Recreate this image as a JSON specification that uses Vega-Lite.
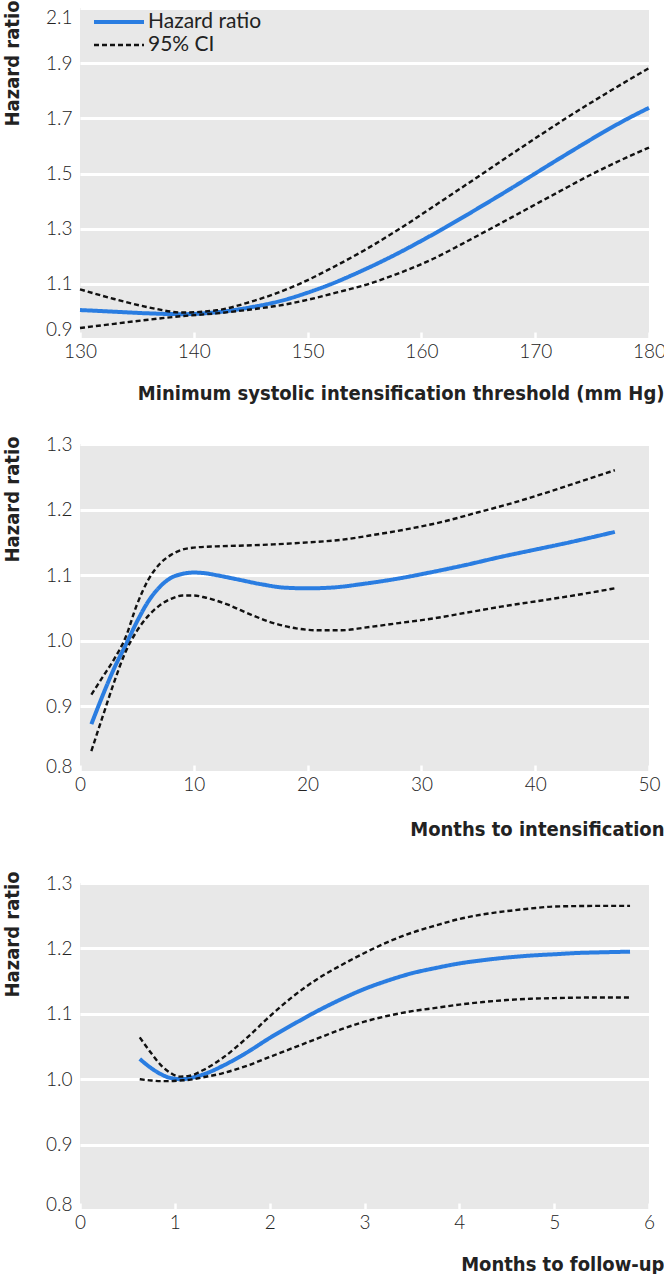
{
  "$schema": "https://vega.github.io/schema/vega-lite/v6.json",
  "padding": {"left": 2, "top": 0, "right": 0, "bottom": 0},
  "spacing": 32,
  "background": "white",
  "resolve": {"legend": {"color": "independent", "strokeDash": "independent", "strokeWidth": "independent"}},
  "config": {
    "view": {"fill": "#e8e8e8", "stroke": null},
    "font": "Lato",
    "axis": {
      "labelFont": "Lato", "labelFontSize": 19, "labelColor": "#222", "labelFontWeight": 300,
      "titleFont": "'Liberation Sans Narrow', 'DejaVu Sans Condensed', sans-serif",
      "titleFontSize": 20, "titleFontWeight": "bold", "titleColor": "#222", "domain": false
    },
    "axisX": {
      "grid": false, "ticks": true, "tickColor": "white", "tickSize": -7, "tickWidth": 2.5,
      "labelPadding": 10, "labelFlush": false, "labelOverlap": false,
      "titleAnchor": "end", "titleAlign": "right", "titleBaseline": "middle", "titleX": 584, "titleY": 54
    },
    "axisY": {
      "grid": true, "gridColor": "white", "gridWidth": 3, "ticks": false, "labelPadding": 8,
      "format": ".1f", "labelOverlap": false,
      "titleAngle": 270, "titleAnchor": "end", "titleAlign": "right", "titleBaseline": "middle",
      "titleX": -68, "titleY": -8
    },
    "legend": {"padding": 0}
  },
  "datasets": {
    "p1": [
      {"type": "Hazard ratio", "s": "hr", "x": 130, "v": 1.005},
      {"type": "Hazard ratio", "s": "hr", "x": 133, "v": 0.999},
      {"type": "Hazard ratio", "s": "hr", "x": 136, "v": 0.993},
      {"type": "Hazard ratio", "s": "hr", "x": 139, "v": 0.99},
      {"type": "Hazard ratio", "s": "hr", "x": 142, "v": 0.997},
      {"type": "Hazard ratio", "s": "hr", "x": 145, "v": 1.015},
      {"type": "Hazard ratio", "s": "hr", "x": 148, "v": 1.042},
      {"type": "Hazard ratio", "s": "hr", "x": 150, "v": 1.068},
      {"type": "Hazard ratio", "s": "hr", "x": 152, "v": 1.098},
      {"type": "Hazard ratio", "s": "hr", "x": 154, "v": 1.133},
      {"type": "Hazard ratio", "s": "hr", "x": 156, "v": 1.171},
      {"type": "Hazard ratio", "s": "hr", "x": 158, "v": 1.212},
      {"type": "Hazard ratio", "s": "hr", "x": 160, "v": 1.256},
      {"type": "Hazard ratio", "s": "hr", "x": 162, "v": 1.302},
      {"type": "Hazard ratio", "s": "hr", "x": 164, "v": 1.35},
      {"type": "Hazard ratio", "s": "hr", "x": 166, "v": 1.399},
      {"type": "Hazard ratio", "s": "hr", "x": 168, "v": 1.449},
      {"type": "Hazard ratio", "s": "hr", "x": 170, "v": 1.5},
      {"type": "Hazard ratio", "s": "hr", "x": 172, "v": 1.551},
      {"type": "Hazard ratio", "s": "hr", "x": 174, "v": 1.601},
      {"type": "Hazard ratio", "s": "hr", "x": 176, "v": 1.65},
      {"type": "Hazard ratio", "s": "hr", "x": 178, "v": 1.696},
      {"type": "Hazard ratio", "s": "hr", "x": 180, "v": 1.738},
      {"type": "95% CI", "s": "up", "x": 130, "v": 1.08},
      {"type": "95% CI", "s": "up", "x": 133, "v": 1.045},
      {"type": "95% CI", "s": "up", "x": 136, "v": 1.015},
      {"type": "95% CI", "s": "up", "x": 139, "v": 0.996},
      {"type": "95% CI", "s": "up", "x": 142, "v": 1.004},
      {"type": "95% CI", "s": "up", "x": 145, "v": 1.035},
      {"type": "95% CI", "s": "up", "x": 147, "v": 1.062},
      {"type": "95% CI", "s": "up", "x": 149.3, "v": 1.1},
      {"type": "95% CI", "s": "up", "x": 152, "v": 1.155},
      {"type": "95% CI", "s": "up", "x": 155, "v": 1.222},
      {"type": "95% CI", "s": "up", "x": 158.1, "v": 1.3},
      {"type": "95% CI", "s": "up", "x": 161.7, "v": 1.398},
      {"type": "95% CI", "s": "up", "x": 165.4, "v": 1.5},
      {"type": "95% CI", "s": "up", "x": 169, "v": 1.6},
      {"type": "95% CI", "s": "up", "x": 172.7, "v": 1.7},
      {"type": "95% CI", "s": "up", "x": 176.3, "v": 1.792},
      {"type": "95% CI", "s": "up", "x": 180, "v": 1.882},
      {"type": "95% CI", "s": "lo", "x": 130, "v": 0.94},
      {"type": "95% CI", "s": "lo", "x": 133, "v": 0.955},
      {"type": "95% CI", "s": "lo", "x": 136, "v": 0.97},
      {"type": "95% CI", "s": "lo", "x": 139, "v": 0.983},
      {"type": "95% CI", "s": "lo", "x": 142, "v": 0.993},
      {"type": "95% CI", "s": "lo", "x": 145, "v": 1.007},
      {"type": "95% CI", "s": "lo", "x": 148, "v": 1.025},
      {"type": "95% CI", "s": "lo", "x": 150, "v": 1.042},
      {"type": "95% CI", "s": "lo", "x": 152.5, "v": 1.068},
      {"type": "95% CI", "s": "lo", "x": 155.4, "v": 1.1},
      {"type": "95% CI", "s": "lo", "x": 158, "v": 1.138},
      {"type": "95% CI", "s": "lo", "x": 161, "v": 1.19},
      {"type": "95% CI", "s": "lo", "x": 163.5, "v": 1.243},
      {"type": "95% CI", "s": "lo", "x": 166, "v": 1.298},
      {"type": "95% CI", "s": "lo", "x": 169, "v": 1.365},
      {"type": "95% CI", "s": "lo", "x": 172, "v": 1.432},
      {"type": "95% CI", "s": "lo", "x": 175.1, "v": 1.5},
      {"type": "95% CI", "s": "lo", "x": 177.5, "v": 1.548},
      {"type": "95% CI", "s": "lo", "x": 180, "v": 1.594}
    ],
    "p2": [
      {"type": "Hazard ratio", "s": "hr", "x": 1, "v": 0.873},
      {"type": "Hazard ratio", "s": "hr", "x": 2, "v": 0.917},
      {"type": "Hazard ratio", "s": "hr", "x": 3, "v": 0.958},
      {"type": "Hazard ratio", "s": "hr", "x": 4, "v": 0.993},
      {"type": "Hazard ratio", "s": "hr", "x": 5, "v": 1.029},
      {"type": "Hazard ratio", "s": "hr", "x": 6, "v": 1.06},
      {"type": "Hazard ratio", "s": "hr", "x": 7, "v": 1.082},
      {"type": "Hazard ratio", "s": "hr", "x": 8, "v": 1.096},
      {"type": "Hazard ratio", "s": "hr", "x": 9, "v": 1.102},
      {"type": "Hazard ratio", "s": "hr", "x": 10, "v": 1.104},
      {"type": "Hazard ratio", "s": "hr", "x": 11, "v": 1.103},
      {"type": "Hazard ratio", "s": "hr", "x": 12, "v": 1.1},
      {"type": "Hazard ratio", "s": "hr", "x": 14, "v": 1.093},
      {"type": "Hazard ratio", "s": "hr", "x": 16, "v": 1.086},
      {"type": "Hazard ratio", "s": "hr", "x": 18, "v": 1.081},
      {"type": "Hazard ratio", "s": "hr", "x": 20, "v": 1.08},
      {"type": "Hazard ratio", "s": "hr", "x": 22, "v": 1.081},
      {"type": "Hazard ratio", "s": "hr", "x": 25, "v": 1.087},
      {"type": "Hazard ratio", "s": "hr", "x": 28, "v": 1.095},
      {"type": "Hazard ratio", "s": "hr", "x": 31, "v": 1.105},
      {"type": "Hazard ratio", "s": "hr", "x": 34, "v": 1.116},
      {"type": "Hazard ratio", "s": "hr", "x": 37, "v": 1.128},
      {"type": "Hazard ratio", "s": "hr", "x": 40, "v": 1.139},
      {"type": "Hazard ratio", "s": "hr", "x": 43, "v": 1.15},
      {"type": "Hazard ratio", "s": "hr", "x": 47, "v": 1.166},
      {"type": "95% CI", "s": "up", "x": 1, "v": 0.918},
      {"type": "95% CI", "s": "up", "x": 2, "v": 0.945},
      {"type": "95% CI", "s": "up", "x": 3, "v": 0.972},
      {"type": "95% CI", "s": "up", "x": 4, "v": 1.005},
      {"type": "95% CI", "s": "up", "x": 5, "v": 1.055},
      {"type": "95% CI", "s": "up", "x": 6, "v": 1.093},
      {"type": "95% CI", "s": "up", "x": 7, "v": 1.117},
      {"type": "95% CI", "s": "up", "x": 8, "v": 1.131},
      {"type": "95% CI", "s": "up", "x": 9, "v": 1.139},
      {"type": "95% CI", "s": "up", "x": 10, "v": 1.142},
      {"type": "95% CI", "s": "up", "x": 12, "v": 1.144},
      {"type": "95% CI", "s": "up", "x": 14, "v": 1.145},
      {"type": "95% CI", "s": "up", "x": 17, "v": 1.147},
      {"type": "95% CI", "s": "up", "x": 20, "v": 1.15},
      {"type": "95% CI", "s": "up", "x": 23, "v": 1.154},
      {"type": "95% CI", "s": "up", "x": 26, "v": 1.162},
      {"type": "95% CI", "s": "up", "x": 29, "v": 1.171},
      {"type": "95% CI", "s": "up", "x": 32, "v": 1.182},
      {"type": "95% CI", "s": "up", "x": 35, "v": 1.196},
      {"type": "95% CI", "s": "up", "x": 38, "v": 1.21},
      {"type": "95% CI", "s": "up", "x": 41, "v": 1.226},
      {"type": "95% CI", "s": "up", "x": 44, "v": 1.243},
      {"type": "95% CI", "s": "up", "x": 47, "v": 1.26},
      {"type": "95% CI", "s": "lo", "x": 1, "v": 0.832},
      {"type": "95% CI", "s": "lo", "x": 2, "v": 0.885},
      {"type": "95% CI", "s": "lo", "x": 3, "v": 0.937},
      {"type": "95% CI", "s": "lo", "x": 4, "v": 0.983},
      {"type": "95% CI", "s": "lo", "x": 5, "v": 1.015},
      {"type": "95% CI", "s": "lo", "x": 6, "v": 1.038},
      {"type": "95% CI", "s": "lo", "x": 7, "v": 1.054},
      {"type": "95% CI", "s": "lo", "x": 8, "v": 1.064},
      {"type": "95% CI", "s": "lo", "x": 9, "v": 1.069},
      {"type": "95% CI", "s": "lo", "x": 10, "v": 1.069},
      {"type": "95% CI", "s": "lo", "x": 11, "v": 1.066},
      {"type": "95% CI", "s": "lo", "x": 13, "v": 1.055},
      {"type": "95% CI", "s": "lo", "x": 15, "v": 1.04},
      {"type": "95% CI", "s": "lo", "x": 17, "v": 1.027},
      {"type": "95% CI", "s": "lo", "x": 19, "v": 1.019},
      {"type": "95% CI", "s": "lo", "x": 21, "v": 1.016},
      {"type": "95% CI", "s": "lo", "x": 23, "v": 1.016},
      {"type": "95% CI", "s": "lo", "x": 25, "v": 1.02},
      {"type": "95% CI", "s": "lo", "x": 28, "v": 1.027},
      {"type": "95% CI", "s": "lo", "x": 31, "v": 1.034},
      {"type": "95% CI", "s": "lo", "x": 34, "v": 1.043},
      {"type": "95% CI", "s": "lo", "x": 37, "v": 1.052},
      {"type": "95% CI", "s": "lo", "x": 40, "v": 1.06},
      {"type": "95% CI", "s": "lo", "x": 43, "v": 1.068},
      {"type": "95% CI", "s": "lo", "x": 47, "v": 1.08}
    ],
    "p3": [
      {"type": "Hazard ratio", "s": "hr", "x": 0.63, "v": 1.031},
      {"type": "Hazard ratio", "s": "hr", "x": 0.75, "v": 1.017},
      {"type": "Hazard ratio", "s": "hr", "x": 0.85, "v": 1.008},
      {"type": "Hazard ratio", "s": "hr", "x": 0.95, "v": 1.002},
      {"type": "Hazard ratio", "s": "hr", "x": 1.07, "v": 1.0},
      {"type": "Hazard ratio", "s": "hr", "x": 1.2, "v": 1.003},
      {"type": "Hazard ratio", "s": "hr", "x": 1.35, "v": 1.01},
      {"type": "Hazard ratio", "s": "hr", "x": 1.5, "v": 1.02},
      {"type": "Hazard ratio", "s": "hr", "x": 1.75, "v": 1.04},
      {"type": "Hazard ratio", "s": "hr", "x": 2.0, "v": 1.063},
      {"type": "Hazard ratio", "s": "hr", "x": 2.25, "v": 1.084},
      {"type": "Hazard ratio", "s": "hr", "x": 2.5, "v": 1.104},
      {"type": "Hazard ratio", "s": "hr", "x": 2.75, "v": 1.122},
      {"type": "Hazard ratio", "s": "hr", "x": 3.0, "v": 1.138},
      {"type": "Hazard ratio", "s": "hr", "x": 3.25, "v": 1.151},
      {"type": "Hazard ratio", "s": "hr", "x": 3.5, "v": 1.162},
      {"type": "Hazard ratio", "s": "hr", "x": 3.75, "v": 1.17},
      {"type": "Hazard ratio", "s": "hr", "x": 4.0, "v": 1.177},
      {"type": "Hazard ratio", "s": "hr", "x": 4.25, "v": 1.182},
      {"type": "Hazard ratio", "s": "hr", "x": 4.5, "v": 1.186},
      {"type": "Hazard ratio", "s": "hr", "x": 4.75, "v": 1.189},
      {"type": "Hazard ratio", "s": "hr", "x": 5.0, "v": 1.191},
      {"type": "Hazard ratio", "s": "hr", "x": 5.25, "v": 1.193},
      {"type": "Hazard ratio", "s": "hr", "x": 5.5, "v": 1.194},
      {"type": "Hazard ratio", "s": "hr", "x": 5.8, "v": 1.195},
      {"type": "95% CI", "s": "up", "x": 0.63, "v": 1.064},
      {"type": "95% CI", "s": "up", "x": 0.75, "v": 1.04},
      {"type": "95% CI", "s": "up", "x": 0.85, "v": 1.022},
      {"type": "95% CI", "s": "up", "x": 0.95, "v": 1.01},
      {"type": "95% CI", "s": "up", "x": 1.05, "v": 1.004},
      {"type": "95% CI", "s": "up", "x": 1.15, "v": 1.005},
      {"type": "95% CI", "s": "up", "x": 1.3, "v": 1.014},
      {"type": "95% CI", "s": "up", "x": 1.5, "v": 1.032},
      {"type": "95% CI", "s": "up", "x": 1.75, "v": 1.062},
      {"type": "95% CI", "s": "up", "x": 2.0, "v": 1.096},
      {"type": "95% CI", "s": "up", "x": 2.25, "v": 1.127},
      {"type": "95% CI", "s": "up", "x": 2.5, "v": 1.153},
      {"type": "95% CI", "s": "up", "x": 2.75, "v": 1.174},
      {"type": "95% CI", "s": "up", "x": 3.0, "v": 1.193},
      {"type": "95% CI", "s": "up", "x": 3.25, "v": 1.21},
      {"type": "95% CI", "s": "up", "x": 3.5, "v": 1.224},
      {"type": "95% CI", "s": "up", "x": 3.75, "v": 1.235},
      {"type": "95% CI", "s": "up", "x": 4.0, "v": 1.245},
      {"type": "95% CI", "s": "up", "x": 4.25, "v": 1.252},
      {"type": "95% CI", "s": "up", "x": 4.5, "v": 1.257},
      {"type": "95% CI", "s": "up", "x": 4.75, "v": 1.261},
      {"type": "95% CI", "s": "up", "x": 5.0, "v": 1.264},
      {"type": "95% CI", "s": "up", "x": 5.5, "v": 1.265},
      {"type": "95% CI", "s": "up", "x": 5.8, "v": 1.265},
      {"type": "95% CI", "s": "lo", "x": 0.63, "v": 1.0},
      {"type": "95% CI", "s": "lo", "x": 0.75, "v": 0.998},
      {"type": "95% CI", "s": "lo", "x": 0.85, "v": 0.997},
      {"type": "95% CI", "s": "lo", "x": 0.95, "v": 0.997},
      {"type": "95% CI", "s": "lo", "x": 1.05, "v": 0.998},
      {"type": "95% CI", "s": "lo", "x": 1.15, "v": 0.999},
      {"type": "95% CI", "s": "lo", "x": 1.3, "v": 1.003},
      {"type": "95% CI", "s": "lo", "x": 1.5, "v": 1.009},
      {"type": "95% CI", "s": "lo", "x": 1.75, "v": 1.02},
      {"type": "95% CI", "s": "lo", "x": 2.0, "v": 1.034},
      {"type": "95% CI", "s": "lo", "x": 2.25, "v": 1.048},
      {"type": "95% CI", "s": "lo", "x": 2.5, "v": 1.062},
      {"type": "95% CI", "s": "lo", "x": 2.75, "v": 1.076},
      {"type": "95% CI", "s": "lo", "x": 3.0, "v": 1.088},
      {"type": "95% CI", "s": "lo", "x": 3.25, "v": 1.097},
      {"type": "95% CI", "s": "lo", "x": 3.5, "v": 1.104},
      {"type": "95% CI", "s": "lo", "x": 3.75, "v": 1.109},
      {"type": "95% CI", "s": "lo", "x": 4.0, "v": 1.114},
      {"type": "95% CI", "s": "lo", "x": 4.25, "v": 1.118},
      {"type": "95% CI", "s": "lo", "x": 4.5, "v": 1.121},
      {"type": "95% CI", "s": "lo", "x": 4.75, "v": 1.123},
      {"type": "95% CI", "s": "lo", "x": 5.0, "v": 1.124},
      {"type": "95% CI", "s": "lo", "x": 5.5, "v": 1.125},
      {"type": "95% CI", "s": "lo", "x": 5.8, "v": 1.125}
    ]
  },
  "vconcat": [
    {
      "width": 569, "height": 331,
      "data": {"name": "p1"},
      "mark": {"type": "line", "interpolate": "monotone"},
      "encoding": {
        "x": {"field": "x", "type": "quantitative", "scale": {"domain": [130, 180], "nice": false},
              "axis": {"values": [130, 140, 150, 160, 170, 180], "title": "Minimum systolic intensification threshold (mm Hg)"}},
        "y": {"field": "v", "type": "quantitative", "scale": {"domain": [0.9, 2.1], "nice": false, "zero": false},
              "axis": {"values": [0.9, 1.1, 1.3, 1.5, 1.7, 1.9, 2.1], "title": "Hazard ratio",
                       "labelBaseline": {"condition": [{"test": "datum.index == 0", "value": "bottom"}, {"test": "datum.index == 1", "value": "top"}], "value": "middle"}}},
        "color": {"field": "type", "type": "nominal",
                  "scale": {"domain": ["Hazard ratio", "95% CI"], "range": ["#2a7de1", "#111111"]},
                  "legend": {"orient": "none", "legendX": 12, "legendY": 4, "title": null, "symbolType": "stroke",
                             "symbolSize": 2500, "clipHeight": 20, "labelFont": "Lato", "labelFontSize": 21, "labelColor": "#222",
                             "labelOffset": 2, "rowPadding": 2, "labelLimit": 300}},
        "strokeDash": {"field": "type", "type": "nominal",
                       "scale": {"domain": ["Hazard ratio", "95% CI"], "range": [[1, 0], [5, 3]]},
                       "legend": {"orient": "none", "legendX": 12, "legendY": 4, "title": null, "symbolType": "stroke",
                             "symbolSize": 2500, "clipHeight": 20, "labelFont": "Lato", "labelFontSize": 21, "labelColor": "#222",
                             "labelOffset": 2, "rowPadding": 2, "labelLimit": 300}},
        "strokeWidth": {"field": "type", "type": "nominal",
                        "scale": {"domain": ["Hazard ratio", "95% CI"], "range": [4, 2.4]},
                        "legend": {"orient": "none", "legendX": 12, "legendY": 4, "title": null, "symbolType": "stroke",
                             "symbolSize": 2500, "clipHeight": 20, "labelFont": "Lato", "labelFontSize": 21, "labelColor": "#222",
                             "labelOffset": 2, "rowPadding": 2, "labelLimit": 300}},
        "detail": {"field": "s", "type": "nominal"}
      }
    },
    {
      "width": 569, "height": 328,
      "data": {"name": "p2"},
      "mark": {"type": "line", "interpolate": "monotone"},
      "encoding": {
        "x": {"field": "x", "type": "quantitative", "scale": {"domain": [0, 50], "nice": false},
              "axis": {"values": [0, 10, 20, 30, 40, 50], "title": "Months to intensification", "titleY": 57}},
        "y": {"field": "v", "type": "quantitative", "scale": {"domain": [0.8, 1.3], "nice": false, "zero": false},
              "axis": {"values": [0.8, 0.9, 1.0, 1.1, 1.2, 1.3], "title": "Hazard ratio",
                       "labelBaseline": {"condition": {"test": "datum.index == 0", "value": "alphabetic"}, "value": "middle"}}},
        "color": {"field": "type", "type": "nominal",
                  "scale": {"domain": ["Hazard ratio", "95% CI"], "range": ["#2a7de1", "#111111"]}, "legend": null},
        "strokeDash": {"field": "type", "type": "nominal",
                       "scale": {"domain": ["Hazard ratio", "95% CI"], "range": [[1, 0], [5, 3]]}, "legend": null},
        "strokeWidth": {"field": "type", "type": "nominal",
                        "scale": {"domain": ["Hazard ratio", "95% CI"], "range": [4, 2.4]}, "legend": null},
        "detail": {"field": "s", "type": "nominal"}
      }
    },
    {
      "width": 569, "height": 327,
      "data": {"name": "p3"},
      "mark": {"type": "line", "interpolate": "monotone"},
      "encoding": {
        "x": {"field": "x", "type": "quantitative", "scale": {"domain": [0, 6], "nice": false},
              "axis": {"values": [0, 1, 2, 3, 4, 5, 6], "format": "d", "title": "Months to follow-up"}},
        "y": {"field": "v", "type": "quantitative", "scale": {"domain": [0.8, 1.3], "nice": false, "zero": false},
              "axis": {"values": [0.8, 0.9, 1.0, 1.1, 1.2, 1.3], "title": "Hazard ratio", "titleY": -12,
                       "labelBaseline": {"condition": {"test": "datum.index == 0", "value": "alphabetic"}, "value": "middle"}}},
        "color": {"field": "type", "type": "nominal",
                  "scale": {"domain": ["Hazard ratio", "95% CI"], "range": ["#2a7de1", "#111111"]}, "legend": null},
        "strokeDash": {"field": "type", "type": "nominal",
                       "scale": {"domain": ["Hazard ratio", "95% CI"], "range": [[1, 0], [5, 3]]}, "legend": null},
        "strokeWidth": {"field": "type", "type": "nominal",
                        "scale": {"domain": ["Hazard ratio", "95% CI"], "range": [4, 2.4]}, "legend": null},
        "detail": {"field": "s", "type": "nominal"}
      }
    }
  ]
}
